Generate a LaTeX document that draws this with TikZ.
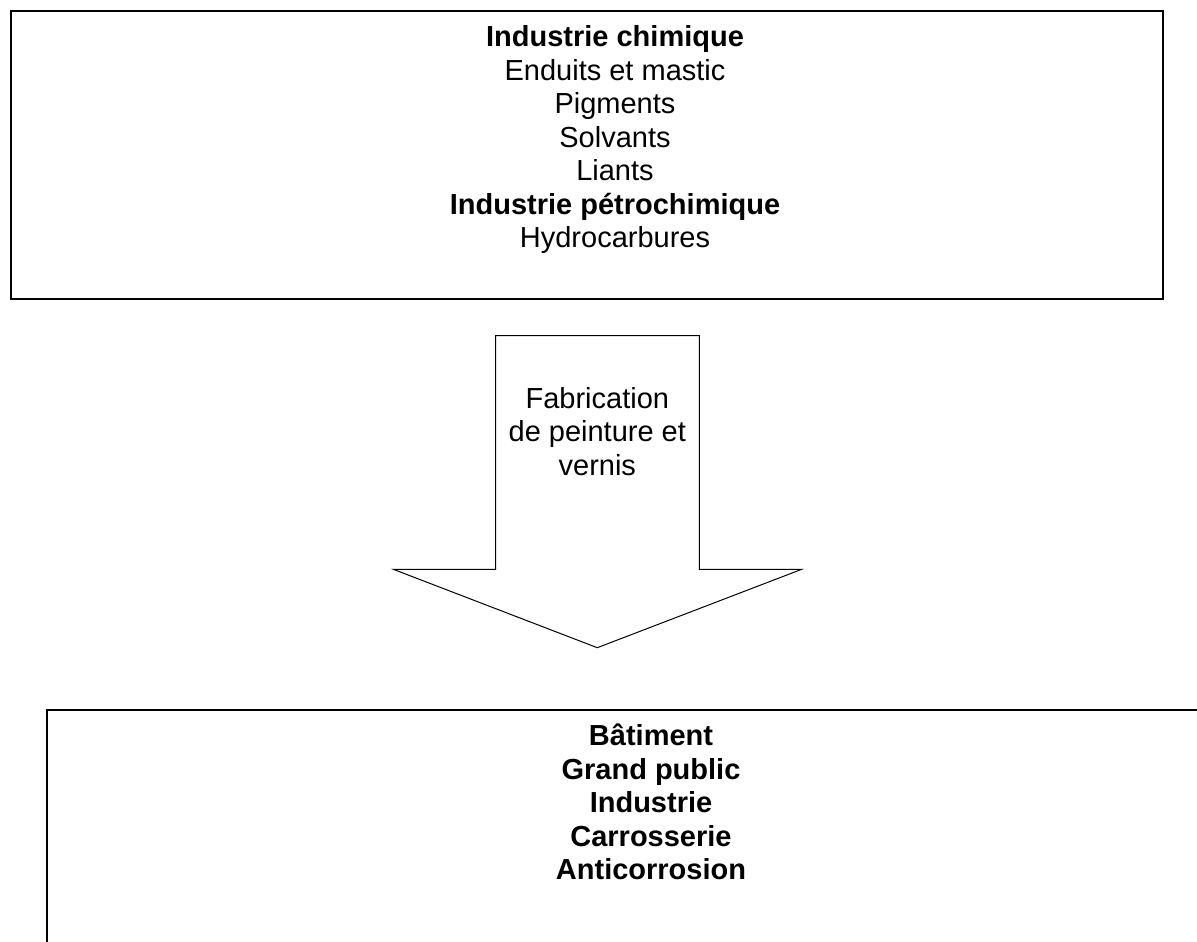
\documentclass[tikz,border=0pt]{standalone}
\usepackage{fontspec}
\setmainfont{Liberation Sans}
\usetikzlibrary{positioning}

\tikzset{
  frame/.style={draw, line width=2pt, inner sep=0pt},
  bigtext/.style={align=center, inner sep=0pt, font=\fontsize{29}{33.5}\selectfont},
}

\begin{document}
\begin{tikzpicture}[x=1pt,y=-1pt]
  \useasboundingbox (0,0) rectangle (1197,942);
  % sources
  \node[frame, anchor=north west, minimum width=1152pt, minimum height=288pt] (chem) at (9.5,10) {};
  \node[bigtext, anchor=base] (chemtxt) at (615,247.7)
    {\textbf{Industrie chimique}\\Enduits et mastic\\Pigments\\Solvants\\Liants\\
     \textbf{Industrie pétrochimique}\\Hydrocarbures};
  % big arrow
  \coordinate (shaftnw) at (495.7,335.7);
  \coordinate (shaftne) at (699.3,335.7);
  \coordinate (tip) at (597.3,647.7);
  \draw[line width=1pt, line join=miter]
    (shaftnw) -- (shaftne) -- (shaftne |- 0,569.3) -- (801.7,569.3) -- (tip)
    -- (393.3,569.3) -- (shaftnw |- 0,569.3) -- cycle;
  \node[bigtext, anchor=base] (fab) at (597.3,475) {Fabrication\\de peinture et\\vernis};
  % markets
  \node[frame, anchor=north west, minimum width=1211pt, minimum height=300pt] (use) at (45.5,709) {};
  \node[bigtext, font=\fontsize{29}{33.5}\selectfont\bfseries, anchor=base] (usetxt) at (651,879.7)
    {Bâtiment\\Grand public\\Industrie\\Carrosserie\\Anticorrosion};
\end{tikzpicture}
\end{document}
